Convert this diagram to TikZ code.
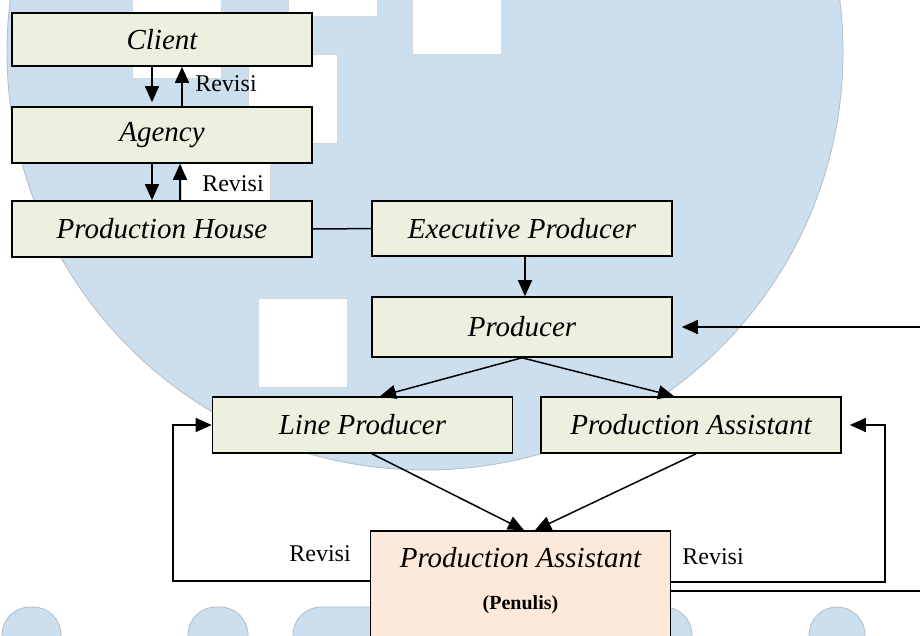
\documentclass[tikz,border=0pt]{standalone}
\usepackage{fontspec}
\setmainfont{Liberation Serif}
\usetikzlibrary{arrows.meta}

\definecolor{verdecaja}{HTML}{EBF1DE}
\definecolor{rosacaja}{HTML}{FDE9D9}
\definecolor{azulfondo}{HTML}{CCDFEE}
\definecolor{grisborde}{HTML}{B4BCC4}

\tikzset{
  caja/.style={draw, line width=1.6pt, fill=verdecaja, minimum width=300pt,
    minimum height=56pt, inner sep=0pt, font=\fontsize{29}{34}\selectfont\itshape},
  cajapen/.style={caja, fill=rosacaja, minimum height=160pt},
  flecha/.style={line width=1.5pt, -{Triangle[length=16pt,width=14pt]}},
  linea/.style={line width=1.5pt},
  etiqueta/.style={inner sep=0pt, font=\fontsize{24}{28}\selectfont},
  fondo/.style={fill=azulfondo, draw=grisborde, line width=0.8pt},
  hueco/.style={fill=white, draw=grisborde!60, line width=0.8pt},
}

\begin{document}
\begin{tikzpicture}[x=1pt,y=-1pt]
  \clip (0,0) rectangle (920,635);
  \fill[white] (0,0) rectangle (920,635);

  % Marca de agua del fondo
  \draw[fondo] (425,52) circle (418pt);
  \foreach \xa/\ya in {132/-11, 288/-73, 412/-35, 248/54, 181/145, 258/298} { % cuadros blancos
    \draw[hueco] (\xa,\ya) rectangle ++(89,89);
  }
  \foreach \xa/\xb in {2/61, 188/248, 293/692, 809/865} { % formas de abajo
    \draw[fondo, rounded corners=28pt] (\xa,607) rectangle (\xb,720);
  }

  % Cajas
  \node[caja, minimum height=53pt] (client) at (162,39.5) {Client};
  \node[caja] (agency) at (162,135) {Agency};
  \node[caja] (house) at (162,229) {Production House};
  \node[caja, minimum height=55pt] (exec) at (522,228.5) {Executive Producer};
  \node[caja, minimum height=60pt] (producer) at (522,327) {Producer};
  \node[caja] (line) at (362.5,425) {Line Producer};
  \node[caja] (assistant) at (691,425) {Production Assistant};
  \node[cajapen] (writer) at (520.5,611) {};
  \node[inner sep=0pt, font=\fontsize{29}{34}\selectfont\itshape] (writertitle) at (520.5,558) {Production Assistant};
  \node[inner sep=0pt, font=\fontsize{20}{24}\selectfont\bfseries] (writersub) at (520.5,605) {(Penulis)};

  % Puntos auxiliares
  \coordinate (desde) at (930,327);
  \coordinate (izq) at (173,425);
  \coordinate (der) at (885,425);
  \coordinate (borde) at (930,591);

  % Flechas de arriba
  \draw[flecha, shorten >=4pt] ([xshift=-10pt]client.south) -- ([xshift=-10pt]agency.north);
  \draw[flecha] ([xshift=20pt]agency.north) -- ([xshift=20pt]client.south);
  \node[etiqueta] (revisia) at (226,84) {Revisi};
  \draw[flecha] ([xshift=-10pt]agency.south) -- ([xshift=-10pt]house.north);
  \draw[flecha] ([xshift=18pt]house.north) -- ([xshift=18pt]agency.south);
  \node[etiqueta] (revisib) at (233,184) {Revisi};
  \draw[linea] (house) -- (exec);
  \draw[flecha] ([xshift=3pt]exec.south) -- ([xshift=3pt]producer.north);
  \draw[flecha, shorten >=9pt] (desde) -- (producer.east);

  % Flechas de abajo
  \draw[flecha] (producer.south) -- ([xshift=17.5pt]line.north);
  \draw[flecha] (producer.south) -- ([xshift=-17pt]assistant.north);
  \draw[flecha] ([xshift=9.5pt]line.south) -- ([xshift=3.5pt]writer.north);
  \draw[flecha] ([xshift=5pt]assistant.south) -- ([xshift=14.5pt]writer.north);

  % Revisiones
  \draw[flecha] ([yshift=30pt]writer.west) -| (izq) -- (line.west);
  \node[etiqueta] (revisic) at (320,554) {Revisi};
  \draw[flecha, shorten >=8pt] ([yshift=29pt]writer.east) -| (der) -- (assistant.east);
  \node[etiqueta] (revisid) at (713,557) {Revisi};
  \draw[linea] ([yshift=20pt]writer.east) -- (borde);
\end{tikzpicture}
\end{document}
